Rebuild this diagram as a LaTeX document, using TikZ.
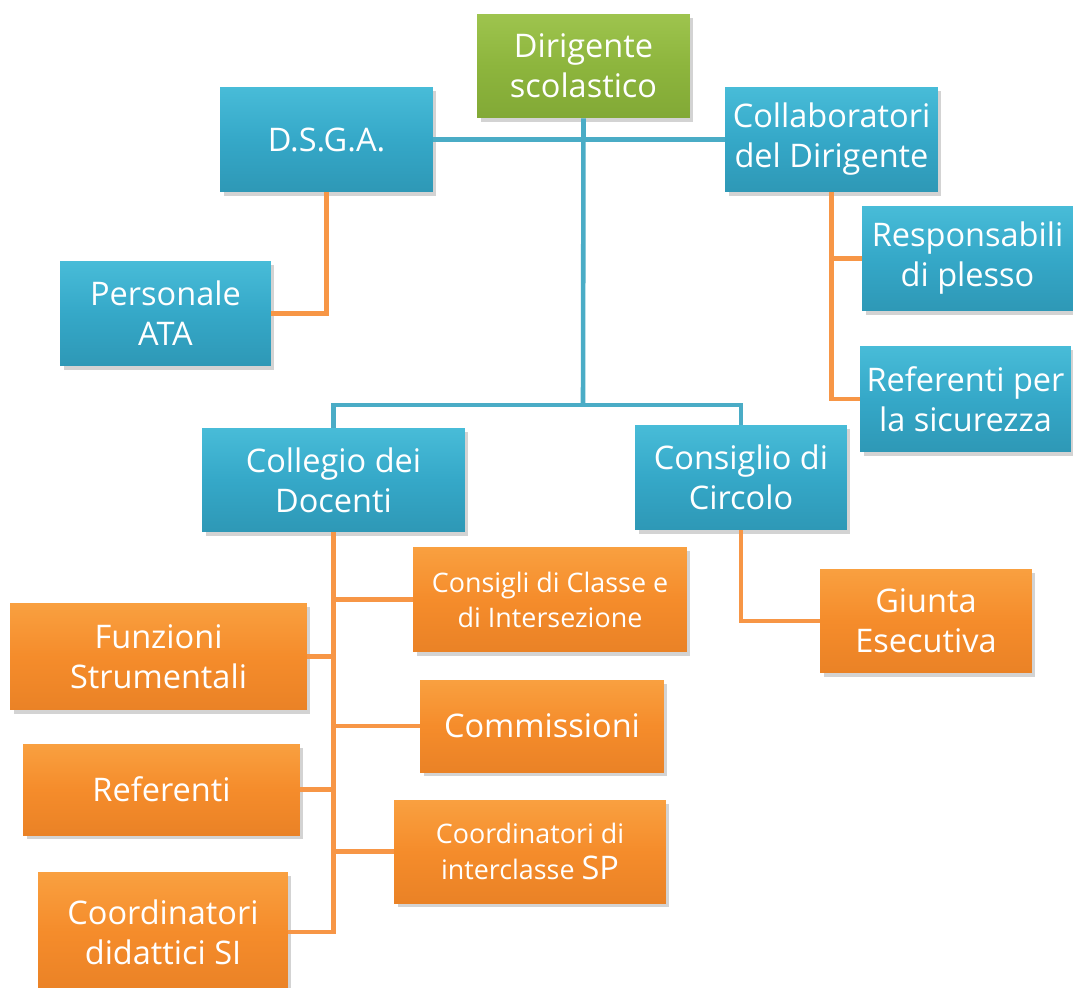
\documentclass[tikz,border=0pt]{standalone}
\usepackage{fontspec}
\setmainfont{Open Sans}
\usetikzlibrary{shadows,positioning}

\definecolor{bluTop}{HTML}{48BCD8}
\definecolor{bluMid}{HTML}{35A8C8}
\definecolor{bluBot}{HTML}{2E98B6}
\definecolor{orTop}{HTML}{F9A040}
\definecolor{orMid}{HTML}{F58C2B}
\definecolor{orBot}{HTML}{EA8226}
\definecolor{grTop}{HTML}{9EC44E}
\definecolor{grMid}{HTML}{8DB53D}
\definecolor{grBot}{HTML}{82A936}
\definecolor{bluLine}{HTML}{4AACC6}
\definecolor{orLine}{HTML}{F79646}

\begin{document}
\begin{tikzpicture}[x=0.02cm,y=-0.02cm,
  box/.style={rectangle,inner sep=0pt,align=center,text=white,
    font=\fontsize{18.5}{22.8}\selectfont,
    drop shadow={opacity=0.35,shadow xshift=2pt,shadow yshift=-2pt}},
  blubox/.style={box,top color=bluTop,bottom color=bluBot,middle color=bluMid},
  orbox/.style={box,top color=orTop,bottom color=orBot,middle color=orMid},
  grbox/.style={box,top color=grTop,bottom color=grBot,middle color=grMid},
  small/.style={font=\fontsize{15.3}{20}\selectfont},
  bluline/.style={draw=bluLine,line width=2.6pt},
  orline/.style={draw=orLine,line width=2.6pt}]
\useasboundingbox (0,0) rectangle (1073,988);

% punti di giunzione
\coordinate (jb) at (583,405);

% riquadri
\node[grbox,minimum width=4.26cm,minimum height=2.08cm] (dir) at (583.5,66) {Dirigente\\scolastico};
\node[blubox,minimum width=4.26cm,minimum height=2.1cm] (dsga) at (326.5,139.5) {D.S.G.A.};
\node[blubox,minimum width=4.26cm,minimum height=2.1cm] (coll) at (831.5,139.5) {Collaboratori\\del Dirigente};
\node[blubox,minimum width=4.22cm,minimum height=2.1cm] (pers) at (165.5,313.5) {Personale\\ATA};
\node[blubox,minimum width=4.22cm,minimum height=2.1cm] (resp) at (967.5,258.5) {Responsabili\\di plesso};
\node[blubox,minimum width=4.22cm,minimum height=2.12cm] (refs) at (965.5,399) {Referenti per\\la sicurezza};
\node[blubox,minimum width=5.26cm,minimum height=2.08cm] (cdoc) at (333.5,480) {Collegio dei\\Docenti};
\node[blubox,minimum width=4.24cm,minimum height=2.1cm] (ccirc) at (741,477.5) {Consiglio di\\Circolo};
\node[orbox,small,minimum width=5.48cm,minimum height=2.1cm] (ccl) at (550,599.5) {Consigli di Classe e\\di Intersezione};
\node[orbox,minimum width=4.24cm,minimum height=2.08cm] (giun) at (926,621) {Giunta\\Esecutiva};
\node[orbox,minimum width=5.94cm,minimum height=2.14cm] (funz) at (158.5,656.5) {Funzioni\\Strumentali};
\node[orbox,minimum width=4.88cm,minimum height=1.84cm] (comm) at (542,726) {Commissioni};
\node[orbox,minimum width=5.54cm,minimum height=1.82cm] (refe) at (161.5,789.5) {Referenti};
\node[orbox,small,minimum width=5.44cm,minimum height=2.06cm] (cint) at (530,851.5) {Coordinatori di\\interclasse {\fontsize{18.5}{20}\selectfont SP}};
\node[orbox,minimum width=5cm,minimum height=2.4cm] (cdid) at (163,932) {Coordinatori\\didattici SI};

% linee blu
\path[bluline] (dsga.east) -- (coll.west);
\path[bluline] (dir.south) -- (jb);
\path[bluline] (cdoc.north) |- (jb) -| (ccirc.north);

% linee arancioni
\path[orline] (dsga.south) |- (pers.east);
\foreach \b in {resp,refs}
  \path[orline] (coll.south) |- (\b.west);
\foreach \b/\a in {ccl/west,funz/east,comm/west,refe/east,cint/west,cdid/east}
  \path[orline] (cdoc.south) |- (\b.\a);
\path[orline] (ccirc.south) |- (giun.west);
\end{tikzpicture}
\end{document}
